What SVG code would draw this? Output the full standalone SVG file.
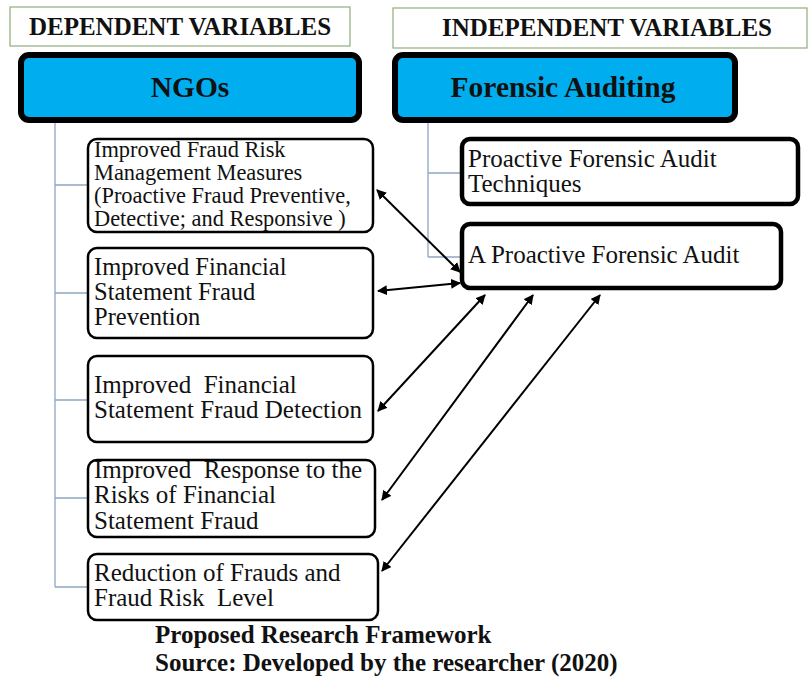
<svg xmlns="http://www.w3.org/2000/svg" width="810" height="682" viewBox="0 0 810 682">
<style>
.hdr{fill:#fff;stroke:#8fad7a;stroke-width:1.2}
.ht{font-family:"Liberation Serif","Times New Roman",serif;font-weight:bold;font-size:25px;fill:#111;text-anchor:middle}
.top{fill:#00aeef;stroke:#000;stroke-width:6}
.tt{font-family:"Liberation Serif","Times New Roman",serif;font-weight:bold;font-size:29.5px;fill:#111;text-anchor:middle}
.lb{fill:#fff;stroke:#000;stroke-width:2.5}
.rb{fill:#fff;stroke:#000;stroke-width:4.5}
.bt{font-family:"Liberation Serif","Times New Roman",serif;font-size:25px;fill:#111}
.st{font-size:22.4px}
.mt{font-size:24.5px}
.ft{font-family:"Liberation Serif","Times New Roman",serif;font-weight:bold;font-size:25px;fill:#111}
.cn{fill:none;stroke:#8ea6c4;stroke-width:1.3}
.ar{fill:none;stroke:#000;stroke-width:2;marker-start:url(#ah);marker-end:url(#ah)}
</style>
<defs>
<marker id="ah" viewBox="0 0 10 10" refX="9" refY="5" markerWidth="5" markerHeight="5" orient="auto-start-reverse">
<path d="M0,0 L10,5 L0,10 z" fill="#000"/>
</marker>
</defs>
<rect width="810" height="682" fill="#fff"/>

<g id="connectors">
<path class="cn" d="M55,122 V587 M55,185 H88 M55,293 H88 M55,400 H88 M55,498 H88 M55,587 H88"/>
<path class="cn" d="M428,122 V257 M428,173 H460 M428,257 H460"/>
<line class="ar" x1="377" y1="190" x2="460" y2="272"/>
<line class="ar" x1="378" y1="291" x2="460" y2="283"/>
<line class="ar" x1="378" y1="411" x2="485" y2="295"/>
<line class="ar" x1="382" y1="500" x2="533" y2="295"/>
<line class="ar" x1="382" y1="571" x2="600" y2="295"/>
</g>

<g id="dep-header">
<rect class="hdr" x="10" y="7" width="340" height="39"/>
<text class="ht" x="180" y="35">DEPENDENT VARIABLES</text>
</g>
<g id="indep-header">
<rect class="hdr" x="393" y="8" width="414" height="40"/>
<text class="ht" x="607" y="36">INDEPENDENT VARIABLES</text>
</g>

<g id="ngos">
<rect class="top" x="21" y="55" width="338" height="65" rx="8"/>
<text class="tt" x="190" y="97">NGOs</text>
</g>
<g id="forensic-auditing">
<rect class="top" x="395" y="55" width="340" height="65" rx="8"/>
<text class="tt" x="563" y="97">Forensic Auditing</text>
</g>

<g id="dv1">
<rect class="lb" x="88" y="139" width="285" height="93" rx="9"/>
<text class="bt st" x="94" y="157">Improved Fraud Risk</text>
<text class="bt st" x="94" y="180">Management Measures</text>
<text class="bt st" x="94" y="203">(Proactive Fraud Preventive,</text>
<text class="bt st" x="94" y="226">Detective; and Responsive )</text>
</g>
<g id="dv2">
<rect class="lb" x="88" y="248" width="285" height="90" rx="9"/>
<text class="bt mt" x="94" y="275">Improved Financial</text>
<text class="bt mt" x="94" y="300">Statement Fraud</text>
<text class="bt mt" x="94" y="325">Prevention</text>
</g>
<g id="dv3">
<rect class="lb" x="88" y="356" width="285" height="86" rx="9"/>
<text class="bt" x="94" y="393" xml:space="preserve">Improved  Financial</text>
<text class="bt" x="94" y="418">Statement Fraud Detection</text>
</g>
<g id="dv4">
<rect class="lb" x="88" y="460" width="287" height="77" rx="9"/>
<text class="bt" x="94" y="478" xml:space="preserve">Improved  Response to the</text>
<text class="bt" x="94" y="503">Risks of Financial</text>
<text class="bt" x="94" y="529">Statement Fraud</text>
</g>
<g id="dv5">
<rect class="lb" x="88" y="554" width="290" height="66" rx="9"/>
<text class="bt" x="94" y="581">Reduction of Frauds and</text>
<text class="bt" x="94" y="606" xml:space="preserve">Fraud Risk  Level</text>
</g>

<g id="iv1">
<rect class="rb" x="462" y="139" width="336" height="65" rx="8"/>
<text class="bt" x="468" y="167">Proactive Forensic Audit</text>
<text class="bt" x="468" y="192">Techniques</text>
</g>
<g id="iv2">
<rect class="rb" x="462" y="224" width="319" height="64" rx="8"/>
<text class="bt" x="468" y="263">A Proactive Forensic Audit</text>
</g>

<g id="caption">
<text class="ft" x="155" y="643">Proposed Research Framework</text>
<text class="ft" x="155" y="671">Source: Developed by the researcher (2020)</text>
</g>
</svg>
